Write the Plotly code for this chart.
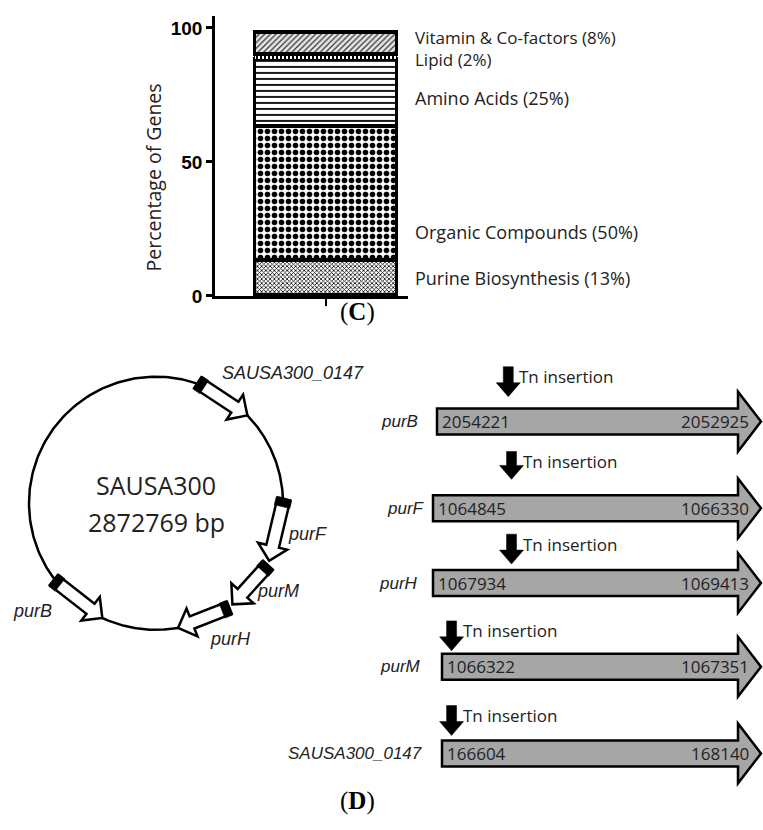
import numpy as np
import plotly.graph_objects as go

# ---------------- DATA ----------------
# Panel C: stacked bar of functional categories
categories = ["Purine Biosynthesis", "Organic Compounds", "Amino Acids", "Lipid", "Vitamin & Co-factors"]
percentages = [13, 50, 25, 2, 8]
y_ticks = [0, 50, 100]

# Panel D: genome map (schematic positions, degrees clockwise from top)
genome_name = "SAUSA300"
genome_length_bp = 2872769
map_genes = ["SAUSA300_0147", "purF", "purM", "purH", "purB"]
map_tail_deg = [19, 88, 119, 145, 233]
map_tip_deg = [46, 117, 143, 170, 205]

# Panel D: gene arrows with Tn insertion
genes = ["purB", "purF", "purH", "purM", "SAUSA300_0147"]
gene_start = [2054221, 1064845, 1067934, 1066322, 166604]
gene_end = [2052925, 1066330, 1069413, 1067351, 168140]
insertion_frac = [0.22, 0.23, 0.23, 0.03, 0.03]

# ---------------- LAYOUT / STYLE ----------------
W, H = 763, 830
TXT = "#222222"
SANS = "Open Sans"
ARIAL = "Liberation Sans"
SY, OY = 1.01, 1.0   # vertical calibration of the overlay coordinate frame


def ty(py):  # layout y -> page y
    return SY * py + OY


def fx(px):  # page x pixel -> paper fraction
    return px / W


def fy(py):  # layout y -> paper fraction
    return 1 - ty(py) / H


fig = go.Figure()

patterns = [
    dict(shape="x", fgcolor="black", bgcolor="white", size=3, solidity=0.45),
    dict(shape=".", fgcolor="black", bgcolor="white", size=7, solidity=0.5),
    dict(shape="-", fgcolor="black", bgcolor="white", size=6, solidity=0.3),
    dict(shape="|", fgcolor="black", bgcolor="white", size=4, solidity=0.5),
    dict(shape="/", fgcolor="#333333", bgcolor="#e6e6e6", size=4, solidity=0.3),
]
line_w = [3.5, 3.5, 3.5, 1.0, 3.5]
for cat, p, pat, lw in zip(categories, percentages, patterns, line_w):
    fig.add_trace(go.Bar(
        x=[0], y=[p], width=0.74, name=cat,
        marker=dict(color="white", pattern=dict(fillmode="replace", **pat),
                    line=dict(color="black", width=lw)),
        xaxis="x", yaxis="y", showlegend=False, hoverinfo="skip"))

annotations = []
lbl_font = dict(family=SANS, size=18, color=TXT)
labels = [f"{c} ({p}%)" for c, p in zip(categories, percentages)]
# bottom three labels individually, top two (tight) as one two-line text
for txt, ly in zip(labels[:3], [278, 232, 97]):
    annotations.append(dict(x=413, y=ly, xref="x2", yref="y2", text=txt,
                            xanchor="left", yanchor="middle", showarrow=False, font=lbl_font))
annotations.append(dict(x=413, y=48, xref="x2", yref="y2",
                        text=labels[4] + "<br>" + labels[3], align="left",
                        xanchor="left", yanchor="middle", showarrow=False,
                        font=dict(family=SANS, size=17, color=TXT)))
annotations.append(dict(x=153, y=177, xref="x2", yref="y2", text="Percentage of Genes",
                        textangle=-90, showarrow=False, xanchor="center", yanchor="middle",
                        font=dict(family=SANS, size=19.5, color=TXT)))
annotations.append(dict(x=357, y=312, xref="x2", yref="y2", text="(<b>C</b>)",
                        showarrow=False, font=dict(family="Liberation Serif", size=25, color="black")))
annotations.append(dict(x=357, y=803, xref="x2", yref="y2", text="(<b>D</b>)",
                        showarrow=False, font=dict(family="Liberation Serif", size=25, color="black")))

# ---------------- genome circle ----------------
cx, cy, R = 156, 504, 127


def pt(deg, r):
    a = np.deg2rad(deg)
    return np.array([cx + r * np.sin(a), cy - r * np.cos(a)])


gaps = [(min(a, b), max(a, b)) for a, b in zip(map_tail_deg, map_tip_deg)]
gaps.sort()
merged = []
for g in gaps:
    if merged and g[0] - merged[-1][1] < 4:
        merged[-1] = (merged[-1][0], max(merged[-1][1], g[1]))
    else:
        merged.append(g)
xs, ys = [], []
for i in range(len(merged)):
    a0 = merged[i][1]
    a1 = merged[(i + 1) % len(merged)][0]
    if a1 <= a0:
        a1 += 360
    ang = np.linspace(a0, a1, 120)
    xs += list(cx + R * np.sin(np.deg2rad(ang))) + [None]
    ys += list(cy - R * np.cos(np.deg2rad(ang))) + [None]
fig.add_trace(go.Scatter(x=xs, y=ys, mode="lines", line=dict(color="black", width=2.5),
                         xaxis="x2", yaxis="y2", showlegend=False, hoverinfo="skip"))

shapes = []


def poly(pts):
    return "M " + " L ".join(f"{x:.2f},{y:.2f}" for x, y in pts) + " Z"


for g, td, pd_ in zip(map_genes, map_tail_deg, map_tip_deg):
    T = pt(td, R + 1)
    P = pt(pd_, R)
    d = (P - T) / np.linalg.norm(P - T)
    n = np.array([-d[1], d[0]])
    w, h, hl = 6.5, 15, 15
    B = P - hl * d
    pts = [T + w * n, B + w * n, B + h * n, P, B - h * n, B - w * n, T - w * n]
    shapes.append(dict(type="path", path=poly(pts), xref="x2", yref="y2",
                       fillcolor="white", line=dict(color="black", width=2.5)))
    bw = w + 1.5
    blk = [T + bw * n, T + 8 * d + bw * n, T + 8 * d - bw * n, T - bw * n]
    shapes.append(dict(type="path", path=poly(blk), xref="x2", yref="y2",
                       fillcolor="black", line=dict(color="black", width=0.5)))

map_label_xy = [(220, 373, "left"), (307, 535, "center"), (278, 592, "center"),
                (230, 640, "center"), (32, 612, "center")]
for g, (lx, ly, anc) in zip(map_genes, map_label_xy):
    annotations.append(dict(x=lx, y=ly, xref="x2", yref="y2", text=f"<i>{g}</i>",
                            xanchor=anc, yanchor="middle", showarrow=False,
                            font=dict(family=ARIAL, size=18, color=TXT)))

annotations.append(dict(x=cx, y=486, xref="x2", yref="y2", text=genome_name, showarrow=False,
                        font=dict(family=SANS, size=25, color=TXT)))
annotations.append(dict(x=cx, y=523, xref="x2", yref="y2", text=f"{genome_length_bp} bp",
                        showarrow=False, font=dict(family=SANS, size=25, color=TXT)))

# ---------------- gene arrows ----------------
row_y = [422, 509, 584, 668, 755]
body_left = [437, 433, 433, 442, 442]
gene_label_right = [420, 427, 420, 423, 424]
tn_text_y = [377, 462, 545, 632, 717]
tn_tip_y = [397, 480, 565, 652, 737]
head_x, tip_x = 738, 761
bh, hh = 13, 30

for g, s, e, fr, c, L, glr, tty, tty2 in zip(genes, gene_start, gene_end, insertion_frac,
                                            row_y, body_left, gene_label_right, tn_text_y, tn_tip_y):
    pts = [(L, c - bh), (head_x, c - bh), (head_x, c - hh), (tip_x, c),
           (head_x, c + hh), (head_x, c + bh), (L, c + bh)]
    shapes.append(dict(type="path", path=poly(pts), xref="x2", yref="y2",
                       fillcolor="#a6a6a6", line=dict(color="black", width=2.5)))
    annotations.append(dict(x=L + 3, y=c, xref="x2", yref="y2", text=str(s), xanchor="left",
                            yanchor="middle", showarrow=False,
                            font=dict(family=SANS, size=17, color=TXT)))
    annotations.append(dict(x=751, y=c, xref="x2", yref="y2", text=str(e), xanchor="right",
                            yanchor="middle", showarrow=False,
                            font=dict(family=SANS, size=17, color=TXT)))
    annotations.append(dict(x=glr, y=c, xref="x2", yref="y2", text=f"<i>{g}</i>", xanchor="right",
                            yanchor="middle", showarrow=False,
                            font=dict(family=ARIAL, size=17, color=TXT)))
    ix = 437 + fr * (tip_x - 437) if L < 440 else L + fr * (tip_x - L)
    top = tty - 10
    hb = tty2 - 14
    mk = [(ix - 5, top), (ix + 5, top), (ix + 5, hb), (ix + 12, hb), (ix, tty2),
          (ix - 12, hb), (ix - 5, hb)]
    shapes.append(dict(type="path", path=poly(mk), xref="x2", yref="y2",
                       fillcolor="black", line=dict(color="black", width=0.5)))
    annotations.append(dict(x=ix + 9, y=tty, xref="x2", yref="y2", text="Tn insertion",
                            xanchor="left", yanchor="middle", showarrow=False,
                            font=dict(family=SANS, size=17, color=TXT)))

# overlay y range so that layout y maps to page y = SY*y + OY
y2_top = (0 - OY) / SY
y2_bot = (H - OY) / SY

fig.update_layout(
    width=W, height=H, margin=dict(l=0, r=0, t=0, b=0),
    paper_bgcolor="white", plot_bgcolor="rgba(0,0,0,0)",
    barmode="stack", bargap=0, showlegend=False,
    xaxis=dict(domain=[fx(215), fx(408)], range=[-0.575, 0.425], anchor="y",
               showline=True, linecolor="black", linewidth=2.5, ticks="outside",
               tickvals=[0], ticktext=[""], ticklen=7, tickwidth=2, tickcolor="black",
               showgrid=False, zeroline=False, fixedrange=True),
    yaxis=dict(domain=[fy(296), fy(15)], range=[0, 104.5], anchor="x",
               showline=True, linecolor="black", linewidth=2.5, ticks="outside",
               tickvals=y_ticks, ticklen=6, tickwidth=2.5, tickcolor="black",
               tickfont=dict(family=ARIAL, size=19, color="black", weight=700),
               showgrid=False, zeroline=False, fixedrange=True),
    xaxis2=dict(domain=[0, 1], range=[0, W], visible=False, anchor="y2", fixedrange=True),
    yaxis2=dict(domain=[0, 1], range=[y2_bot, y2_top], visible=False, anchor="x2", fixedrange=True),
    shapes=shapes, annotations=annotations,
)

# remove the default page margin so the 763x830 figure fills the window exactly
fig.write_html("out.html", config={"displayModeBar": False},
               post_script="document.body.style.margin='0';document.body.style.overflow='hidden';")
